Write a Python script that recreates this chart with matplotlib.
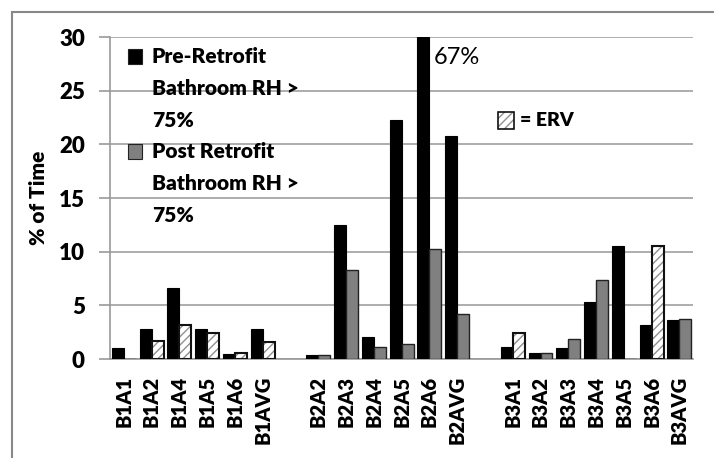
import numpy as np
import matplotlib.pyplot as plt
from matplotlib.patches import Rectangle

plt.rcParams["font.family"] = ["Lato", "DejaVu Sans"]

# data
groups = [
    ["B1A1", "B1A2", "B1A4", "B1A5", "B1A6", "B1AVG"],
    ["B2A2", "B2A3", "B2A4", "B2A5", "B2A6", "B2AVG"],
    ["B3A1", "B3A2", "B3A3", "B3A4", "B3A5", "B3A6", "B3AVG"],
]
pre_retrofit = [1.0, 2.8, 6.6, 2.8, 0.5, 2.8,
                0.4, 12.5, 2.1, 22.3, 67.0, 20.8,
                1.1, 0.6, 1.0, 5.3, 10.5, 3.2, 3.6]
post_retrofit = [0.0, 1.7, 3.2, 2.4, 0.6, 1.55,
                 0.4, 8.3, 1.1, 1.4, 10.3, 4.2,
                 2.4, 0.6, 1.9, 7.4, 0.0, 10.5, 3.7]
has_erv = [False, True, True, True, True, True,
           False, False, False, False, False, False,
           True, False, False, False, False, True, False]
y_ticks = [0, 5, 10, 15, 20, 25, 30]
legend_labels = ["Pre-Retrofit\nBathroom RH >\n75%",
                 "Post Retrofit\nBathroom RH >\n75%"]

labels = [c for g in groups for c in g]
x = []
slot = 0
for g in groups:
    for _ in g:
        x.append(slot)
        slot += 1
    slot += 1  # empty slot between buildings
x = np.array(x, dtype=float)
pre = np.array(pre_retrofit)
post = np.array(post_retrofit)
erv = np.array(has_erv)

PRE_COLOR = "black"
POST_COLOR = "#808080"
BOLD = "heavy"

fig = plt.figure(figsize=(7.14, 4.58), dpi=100)
ax = fig.add_axes([0.154, 0.216, 0.817, 0.703])

w = 0.43
ymax = 30
ax.bar(x - w / 2, np.minimum(pre, ymax), w, color=PRE_COLOR, edgecolor="black",
       linewidth=0.8, zorder=3)
ax.bar(x[~erv] + w / 2, post[~erv], w, color=POST_COLOR, edgecolor="#222222",
       linewidth=1.0, zorder=3)
# ERV bars: hatched white
ax.bar(x[erv] + w / 2, post[erv], w, color="white", edgecolor="#909090",
       hatch="////", linewidth=0, zorder=3)
ax.bar(x[erv] + w / 2, post[erv], w, fill=False, edgecolor="#111111",
       linewidth=1.5, zorder=4)

ax.set_xlim(x[0] - 0.5, x[-1] + 0.5)
ax.set_ylim(0, ymax)
ax.set_yticks(y_ticks)
ax.set_yticklabels([str(t) for t in y_ticks], fontsize=16, fontweight=BOLD)
ax.set_xticks(x)
ax.set_xticklabels(labels, rotation=90, fontsize=14.5, fontweight=BOLD)
ax.tick_params(axis="x", length=0, pad=12)
ax.tick_params(axis="y", length=8, color="#999999", width=1.2, pad=10)
ax.grid(axis="y", color="#a0a0a0", linewidth=1.2, zorder=0)
ax.set_axisbelow(True)
for s in ["top", "right"]:
    ax.spines[s].set_visible(False)
for s in ["left", "bottom"]:
    ax.spines[s].set_color("#999999")
    ax.spines[s].set_linewidth(1.2)
ax.set_ylabel("% of Time", fontsize=15, fontweight=BOLD, labelpad=8)

# legend, drawn by hand so the key squares sit on the first line
line_h = 32 / 322
for k, (lab, col) in enumerate(zip(legend_labels, [PRE_COLOR, POST_COLOR])):
    base = (359 - 63) / 322 - k * 3 * line_h * 0.99
    ax.add_patch(Rectangle((0.031, base - 0.002), 0.024, 0.045,
                           transform=ax.transAxes, facecolor=col,
                           edgecolor="#222222", linewidth=0.8, zorder=5))
    for j, line in enumerate(lab.split("\n")):
        ax.text(0.072, base - j * line_h, line, transform=ax.transAxes,
                fontsize=15, fontweight=BOLD, va="baseline", ha="left")

# 67% label on clipped bar
i67 = labels.index("B2A6")
ax.annotate(f"{pre[i67]:.0f}%", xy=(x[i67], ymax), xytext=(3, -7),
            textcoords="offset points", ha="left", va="top", fontsize=17)

# ERV key
ax.add_patch(Rectangle((0.666, 0.714), 0.027, 0.053, transform=ax.transAxes,
                       facecolor="white", edgecolor="#909090", hatch="////",
                       linewidth=0))
ax.add_patch(Rectangle((0.666, 0.714), 0.027, 0.053, transform=ax.transAxes,
                       fill=False, edgecolor="#111111", linewidth=1.2))
ax.text(0.703, 0.742, "= ERV", transform=ax.transAxes, fontsize=14,
        fontweight=BOLD, va="center")

# outer border
fig.patches.append(Rectangle((12 / 714, -0.1), 2, 1.1 - 12 / 458,
                             transform=fig.transFigure, fill=False,
                             edgecolor="#888888", linewidth=1.5))

fig.savefig("out.png", dpi=100)
